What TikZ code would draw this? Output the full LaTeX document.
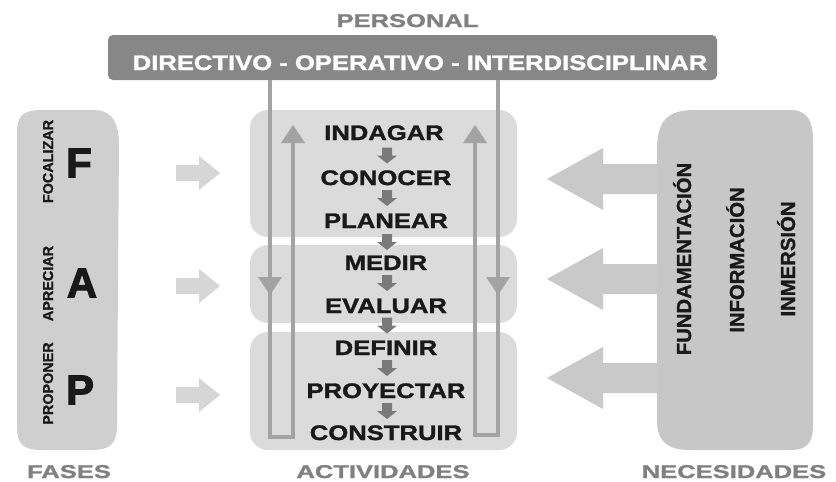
\documentclass[tikz,border=0pt]{standalone}
\usepackage{fontspec}
\setmainfont{Liberation Sans}
\newfontfamily\actfont[FakeStretch=1.22,FakeBold=1.6]{Liberation Sans Bold}
\newfontfamily\labfont[FakeStretch=1.38,FakeBold=1.4]{Liberation Sans Bold}
\newfontfamily\plainbold[FakeBold=1.2]{Liberation Sans Bold}
\newfontfamily\bigbold[FakeBold=2.5]{Liberation Sans Bold}
\definecolor{bargray}{gray}{0.53}
\definecolor{loopgray}{gray}{0.64}
\definecolor{boxgray}{gray}{0.86}
\definecolor{fasegray}{gray}{0.81}
\definecolor{necgray}{gray}{0.78}
\definecolor{bigarrow}{gray}{0.79}
\definecolor{smallarrow}{gray}{0.48}
\definecolor{fasearrow}{gray}{0.84}
\definecolor{labgray}{gray}{0.5}
\definecolor{txt}{gray}{0.1}
\begin{document}
\begin{tikzpicture}[x=1pt,y=-1pt,
  act/.style={font=\actfont\fontsize{21}{21}\selectfont, text=txt, anchor=base, inner sep=0pt},
  lab/.style={font=\labfont\fontsize{18.5}{18.5}\selectfont, text=labgray, anchor=base, inner sep=0pt},
  phase/.style={font=\plainbold\fontsize{14.4}{14.4}\selectfont, text=txt, anchor=base, rotate=90, inner sep=0pt},
  letter/.style={font=\bigbold\fontsize{42}{42}\selectfont, text=txt, inner sep=0pt},
  need/.style={font=\plainbold\fontsize{20.3}{20.3}\selectfont, text=txt, anchor=base, rotate=90, inner sep=0pt},
  actbox/.style={fill=boxgray, rounded corners=18pt, inner sep=0pt, minimum width=267pt},
  loopline/.style={draw=loopgray, line width=4pt},
  loophead/.style={fill=loopgray},
  darr/.pic={\fill[smallarrow] (-5,-8) -- (5,-8) -- (5,0) -- (10,0) -- (0,8) -- (-10,0) -- (-5,0) -- cycle;},
  larr/.pic={\fill[bigarrow] (0,0) -- (56,-31) -- (56,-15) -- (115,-15) -- (115,15) -- (56,15) -- (56,31) -- cycle;},
  rarr/.pic={\fill[fasearrow] (0,-8) -- (23,-8) -- (23,-17) -- (44,0) -- (23,17) -- (23,8) -- (0,8) -- cycle;}
]
\useasboundingbox (0,0) rectangle (836,482);

% activity boxes
\node[actbox, minimum height=127pt] (box1) at (383.5,173.5) {};
\node[actbox, minimum height=78pt] (box2) at (383.5,284) {};
\node[actbox, minimum height=118pt] (box3) at (383.5,391) {};

% fases column
\fill[fasegray] (17,134) .. controls (17,116) and (22,110) .. (42,110) -- (92,110)
  .. controls (110,110) and (117,118) .. (119,140) -- (117,425)
  .. controls (117,444) and (110,450) .. (92,450) -- (42,450)
  .. controls (22,450) and (17,444) .. (17,425) -- cycle;
\node[phase] (foc) at (53,161.5) {FOCALIZAR};
\node[phase] (apr) at (53,283.5) {APRECIAR};
\node[phase] (pro) at (53,383.5) {PROPONER};
\node[letter] (F) at (79,163) {F};
\node[letter] (A) at (82,283) {A};
\node[letter] (P) at (80,390) {P};

% fases arrows
\pic at (176,173) {rarr};
\pic at (176,286) {rarr};
\pic at (176,395) {rarr};

% big left arrows
\pic at (547,179) {larr};
\pic at (547,279) {larr};
\pic at (547,378) {larr};

% necesidades
\fill[necgray] (657,150) .. controls (657,120) and (668,110) .. (695,110) -- (790,110)
  .. controls (808,110) and (813,122) .. (813,140) -- (813,425)
  .. controls (813,444) and (806,450) .. (790,450) -- (690,450)
  .. controls (666,450) and (657,440) .. (657,420) -- cycle;
\node[need] (fund) at (691,259) {FUNDAMENTACIÓN};
\node[need] (info) at (744,260) {INFORMACIÓN};
\node[need] (inm) at (795,259) {INMERSIÓN};

% personal bar
\node[lab] (personal) at (407.5,27) {PERSONAL};
\node[fill=bargray, rounded corners=5pt, minimum width=609pt, minimum height=45pt, inner sep=0pt] (bar) at (412.5,57.5) {};
\node[act, text=white] (bartext) at (420,70) {DIRECTIVO - OPERATIVO - INTERDISCIPLINAR};

% loops
\coordinate (L1) at (270,80);
\coordinate (L2) at (270,437);
\coordinate (L3) at (293,437);
\coordinate (L4) at (293,140);
\draw[loopline] (L1) -- (L2) -- (L3) -- (L4);
\fill[loophead] (281,143) -- (305,143) -- (293,125) -- cycle;
\fill[loophead] (258,277) -- (282,277) -- (270,295) -- cycle;

\coordinate (R1) at (498,80);
\coordinate (R2) at (498,435);
\coordinate (R3) at (475,435);
\coordinate (R4) at (475,140);
\draw[loopline] (R1) -- (R2) -- (R3) -- (R4);
\fill[loophead] (463,143) -- (487,143) -- (475,125) -- cycle;
\fill[loophead] (486,277) -- (510,277) -- (498,295) -- cycle;

% activities
\node[act] (a1) at (384,140) {INDAGAR};
\node[act] (a2) at (386,185) {CONOCER};
\node[act] (a3) at (386,228) {PLANEAR};
\node[act] (a4) at (386,270) {MEDIR};
\node[act] (a5) at (386,313) {EVALUAR};
\node[act] (a6) at (386,355) {DEFINIR};
\node[act] (a7) at (386,398) {PROYECTAR};
\node[act] (a8) at (386,440) {CONSTRUIR};

\pic at (387,155.5) {darr};
\pic at (387,198) {darr};
\pic at (387,242) {darr};
\pic at (387,283) {darr};
\pic at (387,325.5) {darr};
\pic at (387,368) {darr};
\pic at (387,411) {darr};

% bottom labels
\node[lab] (fases) at (69,478) {FASES};
\node[lab] (activ) at (383,478) {ACTIVIDADES};
\node[lab] (neces) at (734,478) {NECESIDADES};
\end{tikzpicture}
\end{document}
